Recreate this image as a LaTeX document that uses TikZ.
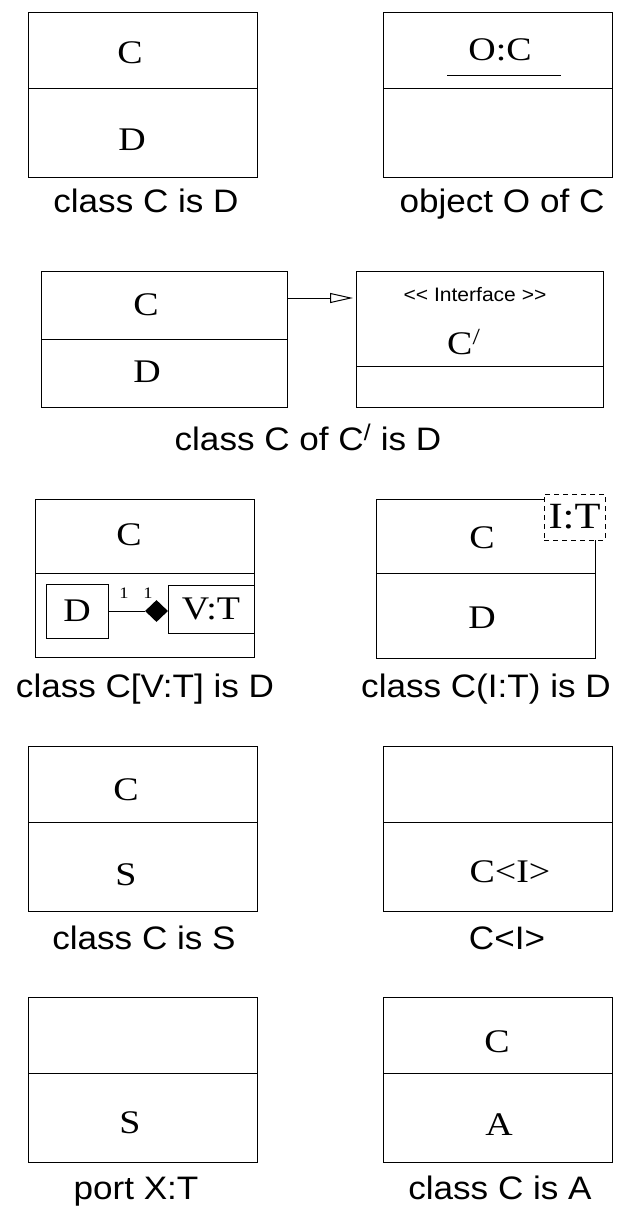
\documentclass[tikz,border=0pt]{standalone}
\usepackage{fontspec}
\setmainfont{Liberation Serif}[FakeStretch=1.15]
\setsansfont{Liberation Sans}[FakeStretch=1.08]
\usetikzlibrary{arrows.meta,shapes.geometric}

\tikzset{
  compart/.style={draw, line width=1pt, inner sep=0pt, outer sep=0pt},
  nametext/.style={font=\fontsize{33}{33}\selectfont, inner sep=0pt},
  captext/.style={font=\sffamily\fontsize{32.5}{32.5}\selectfont, inner sep=0pt, anchor=base},
  multtext/.style={font=\fontsize{16}{16}\selectfont, inner sep=0pt},
  portbox/.style={draw, line width=1pt, dash pattern=on 5pt off 4pt, fill=white, inner sep=0pt},
  realize/.style={line width=1pt, -{Triangle[open, length=23pt, width=10pt]}},
}

\begin{document}
\begin{tikzpicture}[x=1pt, y=-1pt]

\useasboundingbox (0,0) rectangle (618,1210);

\node [compart, minimum width=229pt, minimum height=76pt] (cdTop) at (142.5,50) {};
\node [compart, minimum width=229pt, minimum height=89pt] (cdBot) at (142.5,132.5) {};
\node [nametext] (cdC) at (130,53) {C};
\node [nametext] (cdD) at (132,140) {D};
\node [captext] (cdCap) at (146,212) {class C is D};

\node [compart, minimum width=229pt, minimum height=76pt] (ocTop) at (497.5,50) {};
\node [compart, minimum width=229pt, minimum height=89pt] (ocBot) at (497.5,132.5) {};
\node [nametext] (ocName) at (500,50) {O:C};
\draw [line width=1pt] (447,75) -- (561,75);
\node [captext] (ocCap) at (502,212) {object O of C};

\node [compart, minimum width=246pt, minimum height=68pt] (ccTop) at (164,305) {};
\node [compart, minimum width=246pt, minimum height=68pt] (ccBot) at (164,373) {};
\node [nametext] (ccC) at (146,305) {C};
\node [nametext] (ccD) at (147,372) {D};

\node [compart, minimum width=247pt, minimum height=95pt] (ifTop) at (479.5,318.5) {};
\node [compart, minimum width=247pt, minimum height=41pt] (ifBot) at (479.5,386.5) {};
\node [font=\sffamily\fontsize{19.5}{19.5}\selectfont, inner sep=0pt] (ifStereo) at (475,295) {<\kern0pt< Interface >\kern0pt>};
\node [nametext, anchor=base west] (ifName) at (447,354) {C\textsuperscript{/}};

\coordinate (gen) at ([yshift=7pt]ccTop.east);
\draw [realize, shorten >=3pt] (gen) -- (gen -| ifTop.west);

\node [captext] (ccCap) at (308,450) {class C of C\textsuperscript{/} is D};

\node [compart, minimum width=219pt, minimum height=74pt] (vtTop) at (144.5,536) {};
\node [compart, minimum width=219pt, minimum height=84pt] (vtBot) at (144.5,615) {};
\node [nametext] (vtC) at (129,535) {C};
\node [compart, nametext, minimum width=62pt, minimum height=54pt] (vtD) at (77,611) {D};
\node [diamond, fill=black, inner sep=0pt, minimum width=23pt, minimum height=22pt] (vtDia) at (156.5,611) {};
\node [compart, nametext, minimum width=86pt, minimum height=48pt] (vtPart) at (211,609) {V:T};
\draw [line width=1pt] (vtD) -- (vtDia);
\node [multtext] (vtM1) at (124,593) {1};
\node [multtext] (vtM2) at (148,593) {1};
\node [captext] (vtCap) at (145,697) {class C[V:T] is D};

\node [compart, minimum width=219pt, minimum height=74pt] (itTop) at (485.5,536) {};
\node [compart, minimum width=219pt, minimum height=85pt] (itBot) at (485.5,615.5) {};
\node [nametext] (itC) at (482,538) {C};
\node [nametext] (itD) at (482,618) {D};
\node [portbox, font=\fontsize{37}{37}\selectfont, minimum width=61pt, minimum height=46pt] (itPort) at (574.5,517) {I:T};
\node [captext] (itCap) at (486,697) {class C(I:T) is D};

\node [compart, minimum width=229pt, minimum height=76pt] (csTop) at (142.5,784) {};
\node [compart, minimum width=229pt, minimum height=89pt] (csBot) at (142.5,866.5) {};
\node [nametext] (csC) at (126,790) {C};
\node [nametext] (csS) at (126,875) {S};
\node [captext] (csCap) at (144,949) {class C is S};

\node [compart, minimum width=229pt, minimum height=76pt] (giTop) at (497.5,784) {};
\node [compart, minimum width=229pt, minimum height=89pt] (giBot) at (497.5,866.5) {};
\node [nametext] (giName) at (510,872) {C<I>};
\node [captext] (giCap) at (507,949) {C<I>};

\node [compart, minimum width=229pt, minimum height=76pt] (ptTop) at (142.5,1035) {};
\node [compart, minimum width=229pt, minimum height=89pt] (ptBot) at (142.5,1117.5) {};
\node [nametext] (ptS) at (130,1123) {S};
\node [captext] (ptCap) at (136,1199) {port X:T};

\node [compart, minimum width=229pt, minimum height=76pt] (caTop) at (497.5,1035) {};
\node [compart, minimum width=229pt, minimum height=89pt] (caBot) at (497.5,1117.5) {};
\node [nametext] (caC) at (497,1042) {C};
\node [nametext] (caA) at (499,1125) {A};
\node [captext] (caCap) at (500,1199) {class C is A};

\end{tikzpicture}
\end{document}
